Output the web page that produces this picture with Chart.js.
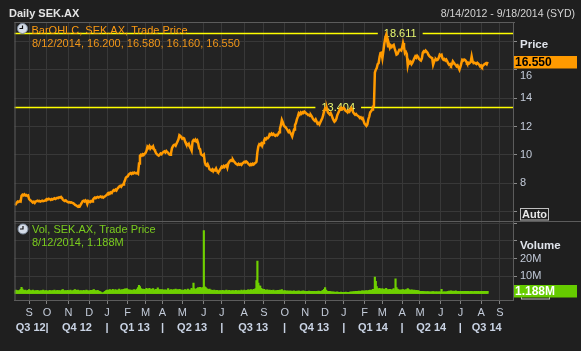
<!DOCTYPE html>
<html>
<head>
<meta charset="utf-8">
<title>Daily SEK.AX</title>
<script src="https://cdn.jsdelivr.net/npm/chart.js"></script>
<style>
  html, body { margin: 0; padding: 0; background: #1f1f1f; }
  #wrap { position: relative; width: 581px; height: 351px; overflow: hidden; }
  #title { position: absolute; left: 9px; top: 6px; font: bold 11px "Liberation Sans", sans-serif; color: #e4e4e4; line-height: 14px; }
  #range { position: absolute; right: 6px; top: 6px; font: 10.5px "Liberation Sans", sans-serif; color: #d4d4d4; line-height: 14px; }
  canvas { position: absolute; left: 0; top: 0; }
</style>
</head>
<body>
<div id="wrap">
  <canvas id="chart" width="581" height="351"></canvas>
  <div id="title">Daily SEK.AX</div>
  <div id="range">8/14/2012 - 9/18/2014 (SYD)</div>
</div>

<script>
// daily closes, one per trading day from 8/14/2012 to 8/12/2014
const closes = [
  6.45, 6.55, 6.65, 6.72, 6.70, 6.75, 6.72, 7.12, 7.20, 7.15,
  7.22, 7.15, 7.18, 7.12, 7.15, 6.90, 6.82, 6.78, 6.72, 6.65,
  6.70, 6.62, 6.72, 6.75, 6.78, 6.74, 6.76, 6.72, 6.75, 6.78,
  6.74, 6.76, 6.80, 6.85, 6.90, 6.86, 6.92, 6.88, 6.84, 6.90,
  6.86, 6.92, 6.95, 6.90, 6.94, 6.98, 6.96, 7.02, 7.00, 7.04,
  6.96, 6.85, 6.80, 6.76, 6.80, 6.74, 6.70, 6.66, 6.68, 6.64,
  6.66, 6.62, 6.60, 6.55, 6.48, 6.45, 6.40, 6.36, 6.42, 6.38,
  6.50, 6.62, 6.75, 6.78, 6.72, 6.80, 6.74, 6.55, 6.76, 6.72,
  6.68, 6.75, 6.72, 6.85, 6.95, 7.00, 6.96, 7.02, 7.05, 7.00,
  7.04, 7.08, 7.02, 7.06, 7.00, 7.05, 7.10, 7.15, 7.22, 7.30,
  7.34, 7.28, 7.36, 7.32, 7.45, 7.52, 7.48, 7.56, 7.50, 7.62,
  7.70, 7.78, 7.82, 7.76, 7.86, 7.92, 8.05, 8.20, 8.40, 8.46,
  8.50, 8.62, 8.68, 8.72, 8.66, 8.74, 8.70, 8.76, 8.72, 8.70,
  8.74, 8.68, 9.40, 9.95, 10.02, 9.96, 10.05, 10.00, 10.08, 10.15,
  10.30, 10.58, 10.50, 10.62, 10.45, 10.55, 10.50, 10.60, 10.40, 10.30,
  10.15, 10.05, 10.00, 9.95, 10.02, 10.10, 10.05, 10.15, 10.20, 10.25,
  10.18, 10.28, 10.20, 10.15, 10.05, 10.02, 10.10, 10.46, 10.60, 10.70,
  10.72, 10.65, 10.80, 10.95, 11.10, 11.40, 11.35, 11.25, 11.15, 11.20,
  11.17, 10.95, 10.80, 10.75, 10.70, 10.78, 10.58, 10.45, 10.30, 10.95,
  11.05, 11.00, 11.08, 10.95, 11.02, 10.80, 10.46, 10.40, 10.05, 10.00,
  9.95, 10.02, 9.50, 9.30, 9.25, 9.35, 9.20, 9.00, 8.95, 8.90,
  8.98, 8.85, 8.95, 8.92, 9.05, 8.88, 8.80, 8.82, 8.95, 9.05,
  9.17, 9.12, 9.22, 9.15, 9.25, 9.29, 9.10, 9.40, 9.50, 9.60,
  9.64, 9.58, 9.66, 9.55, 9.48, 9.40, 9.35, 9.30, 9.38, 9.32,
  9.36, 9.30, 9.40, 9.45, 9.52, 9.48, 9.55, 9.50, 9.40, 9.34,
  9.28, 9.36, 9.30, 9.38, 9.33, 9.40, 9.45, 9.52, 10.20, 10.60,
  10.75, 10.70, 10.80, 10.65, 10.85, 11.00, 11.15, 11.10, 11.20, 11.17,
  11.25, 11.45, 11.40, 11.50, 11.42, 11.48, 11.40, 11.35, 11.42, 11.38,
  11.45, 11.60, 11.87, 12.10, 12.46, 12.30, 12.10, 11.99, 11.95, 11.85,
  11.75, 11.63, 11.70, 11.55, 11.45, 11.30, 11.55, 11.80, 12.10, 12.25,
  12.50, 12.70, 12.93, 12.85, 12.98, 12.90, 13.00, 12.95, 13.05, 13.00,
  12.92, 12.88, 12.80, 12.82, 12.75, 12.80, 12.70, 12.55, 12.46, 12.40,
  12.50, 12.35, 12.20, 12.25, 12.15, 12.30, 12.45, 12.58, 12.80, 13.10,
  13.28, 13.20, 13.25, 13.00, 12.93, 12.85, 12.95, 12.80, 12.60, 12.45,
  12.34, 12.40, 12.55, 12.80, 12.95, 13.10, 13.28, 13.20, 13.30, 13.25,
  13.30, 13.22, 13.10, 13.07, 13.00, 13.12, 13.05, 13.20, 13.30, 13.15,
  13.00, 12.90, 12.83, 12.88, 12.80, 12.75, 12.70, 12.60, 12.65, 12.55,
  12.60, 12.40, 12.20, 12.13, 12.05, 12.15, 12.50, 12.70, 13.00, 13.07,
  13.20, 13.42, 13.45, 15.80, 16.00, 16.12, 16.40, 16.47, 16.90, 17.18,
  17.20, 16.82, 17.30, 17.80, 18.23, 18.45, 18.10, 17.65, 17.80, 17.55,
  17.70, 17.60, 17.70, 17.75, 17.50, 17.30, 17.06, 17.10, 17.25, 17.40,
  17.40, 17.35, 17.55, 17.88, 17.60, 17.18, 17.25, 17.10, 16.30, 16.60,
  16.47, 16.55, 16.40, 16.50, 16.65, 16.80, 16.94, 16.85, 16.98, 16.90,
  16.75, 16.70, 16.65, 16.80, 17.20, 17.30, 17.25, 17.35, 17.28, 17.20,
  17.05, 16.95, 16.90, 16.85, 16.82, 16.35, 16.55, 16.70, 16.75, 16.68,
  16.72, 16.85, 17.06, 17.00, 17.05, 16.80, 16.70, 16.75, 16.65, 16.72,
  16.60, 16.45, 16.35, 16.40, 16.30, 16.38, 16.59, 16.50, 16.40, 16.35,
  16.24, 16.30, 16.15, 16.00, 16.20, 16.45, 16.70, 16.65, 16.72, 16.68,
  16.60, 16.47, 16.50, 16.42, 16.48, 16.55, 16.94, 16.60, 16.47, 16.50,
  16.45, 16.40, 16.48, 16.42, 16.35, 16.24, 16.30, 16.20, 16.28, 16.35,
  16.40, 16.45, 16.38, 16.55
];

// daily volume in millions
const volumes = [
  1.6, 1.9, 1.5, 1.7, 1.4, 1.8, 2.4, 3.6, 2.6, 1.8,
  1.7, 2.0, 1.6, 1.4, 1.8, 2.2, 1.7, 1.5, 1.6, 1.9,
  1.6, 1.4, 1.7, 1.5, 1.8, 1.6, 1.3, 1.5, 1.7, 1.4,
  1.9, 1.6, 1.4, 1.7, 1.5, 1.3, 1.6, 1.8, 1.4, 1.5,
  1.7, 1.5, 2.0, 1.6, 1.4, 1.8, 1.5, 1.7, 1.6, 1.4,
  1.9, 2.2, 1.6, 1.5, 1.7, 1.4, 1.8, 1.6, 1.5, 1.9,
  1.6, 1.4, 1.7, 2.0, 2.3, 1.8, 1.6, 1.9, 1.5, 1.4,
  1.7, 1.6, 1.4, 1.8, 1.5, 1.6, 2.0, 1.7, 1.4, 1.6,
  1.5, 1.8, 1.6, 1.9, 2.2, 1.7, 1.5, 1.6, 1.8, 1.4,
  1.3, 0.9, 0.6, 0.3, 0.4, 0.8, 1.2, 1.7, 2.0, 1.6,
  1.9, 2.3, 1.8, 1.7, 2.4, 2.0, 1.6, 2.2, 1.8, 1.7,
  2.1, 2.5, 1.9, 1.8, 2.2, 2.0, 2.4, 2.7, 2.3, 2.8,
  2.2, 1.9, 2.1, 1.8, 2.0, 1.7, 1.9, 2.2, 1.8, 2.0,
  2.6, 3.4, 4.7, 4.0, 2.8, 2.3, 2.6, 2.2, 2.4, 2.1,
  2.9, 2.4, 2.2, 3.0, 2.1, 2.6, 2.3, 2.8, 2.0, 1.9,
  2.4, 2.1, 3.2, 2.3, 2.0, 2.2, 1.9, 2.3, 1.8, 2.0,
  2.1, 1.8, 2.0, 2.8, 1.9, 1.7, 2.2, 1.9, 2.0, 2.3,
  2.0, 2.6, 1.9, 2.2, 1.8, 2.4, 2.1, 1.9, 1.7, 2.0,
  1.8, 2.2, 1.9, 1.7, 2.6, 2.0, 1.8, 2.1, 3.0, 2.2,
  5.9, 2.8, 2.2, 2.4, 3.0, 3.4, 2.6, 3.6, 2.9, 3.2,
  3.4, 36.0, 3.8, 3.4, 2.8, 2.4, 2.2, 2.6, 2.0, 1.9,
  1.8, 1.6, 2.0, 1.7, 1.5, 1.8, 1.6, 1.4, 1.7, 1.6,
  1.5, 1.8, 1.6, 1.4, 1.7, 1.9, 1.5, 1.6, 1.8, 1.4,
  1.6, 1.5, 1.7, 1.4, 1.6, 1.8, 1.5, 1.4, 1.7, 1.6,
  1.4, 1.9, 1.6, 1.5, 2.0, 1.7, 1.6, 1.8, 2.1, 1.9,
  1.7, 2.2, 2.0, 1.8, 2.4, 2.1, 2.8, 7.4, 18.5, 5.9,
  4.4, 4.2, 3.0, 2.6, 2.2, 2.4, 2.0, 1.8, 2.1, 1.9,
  1.7, 2.0, 1.6, 1.8, 1.5, 1.9, 1.6, 1.4, 1.7, 1.5,
  1.8, 1.6, 2.0, 1.7, 2.2, 1.6, 1.4, 1.7, 1.5, 1.3,
  1.6, 1.4, 1.2, 1.5, 1.3, 1.4, 1.2, 1.6, 1.3, 1.1,
  1.4, 1.2, 1.5, 1.3, 1.1, 1.4, 1.2, 1.6, 1.3, 1.2,
  1.1, 1.3, 1.2, 1.4, 1.1, 1.2, 1.0, 1.3, 1.1, 1.2,
  1.0, 1.2, 1.1, 1.4, 1.2, 1.1, 1.3, 1.5, 1.8, 2.4,
  3.4, 2.0, 1.4, 1.2, 1.1, 1.3, 1.0, 0.9, 0.8, 0.9,
  0.7, 0.8, 0.7, 0.9, 0.7, 0.6, 0.7, 0.8, 0.6, 0.7,
  0.6, 0.7, 0.8, 0.6, 0.7, 0.6, 0.7, 0.9, 0.8, 1.0,
  0.9, 1.1, 1.0, 1.2, 1.1, 1.3, 1.4, 1.2, 1.3, 1.5,
  1.4, 1.6, 1.3, 1.5, 1.7, 1.4, 1.6, 1.8, 2.0, 1.7,
  1.9, 2.4, 2.2, 9.4, 7.0, 3.9, 2.8, 2.4, 3.0, 2.6,
  2.2, 2.8, 2.4, 2.1, 2.6, 3.0, 2.3, 2.0, 2.2, 2.4,
  2.1, 1.9, 2.3, 2.8, 2.0, 8.4, 3.4, 2.6, 2.2, 2.0,
  1.8, 2.1, 1.9, 2.3, 2.0, 1.8, 2.2, 1.9, 2.8, 2.3,
  2.0, 1.8, 2.1, 1.9, 1.7, 2.0, 1.6, 1.8, 1.5, 1.7,
  1.4, 1.2, 1.3, 1.1, 1.2, 1.0, 1.1, 0.9, 1.0, 1.1,
  0.9, 1.0, 0.8, 1.0, 0.9, 1.1, 0.9, 0.8, 1.0, 0.9,
  0.8, 0.9, 1.0, 0.8, 2.4, 0.7, 0.9, 1.0, 0.8, 0.9,
  1.0, 1.2, 1.4, 1.3, 1.6, 1.2, 1.4, 1.1, 1.3, 1.5,
  1.2, 1.1, 1.3, 1.0, 1.2, 1.1, 1.3, 1.0, 1.2, 1.1,
  1.3, 1.0, 1.2, 1.1, 1.0, 1.2, 1.3, 1.1, 1.0, 1.2,
  1.1, 1.3, 1.0, 1.2, 1.1, 1.0, 1.3, 1.1, 1.2, 1.0,
  1.3, 1.1, 1.2, 1.188
];

// x axis: trading-day index of each month start, and its letter
const monthTickIdx = [15, 34, 57, 79, 98, 120, 139, 157, 178, 201, 220, 244, 265, 287, 309, 330, 350, 372, 391, 412, 431, 453, 474, 496, 516];
const monthLabels = ['S', 'O', 'N', 'D', 'J', 'F', 'M', 'A', 'M', 'J', 'J', 'A', 'S', 'O', 'N', 'D', 'J', 'F', 'M', 'A', 'M', 'J', 'J', 'A', 'S'];
const quarterBounds = [34, 98, 157, 220, 287, 350, 412, 474];
const quarterLabels = ['Q3 12', 'Q4 12', 'Q1 13', 'Q2 13', 'Q3 13', 'Q4 13', 'Q1 14', 'Q2 14', 'Q3 14'];
const lastDayIdx = 530; // 9/18/2014

const priceTicks = [6, 8, 10, 12, 14, 16, 18];
const volTicks = [10, 20, 30, 40];

const highLow = [18.611, 13.404];
const lastBar = ['8/12/2014', 16.200, 16.580, 16.160, 16.550];
const lastVol = 1.188;

// quarter axis ticks: separators at boundaries, labels in the middle
const qTickVals = [];
const qTickText = [];
const qEdges = [-0.5].concat(quarterBounds, [lastDayIdx]);
for (let i = 0; i < quarterLabels.length; i++) {
  qTickVals.push((qEdges[i] + qEdges[i + 1]) / 2);
  qTickText.push(quarterLabels[i]);
  if (i < quarterBounds.length) {
    qTickVals.push(quarterBounds[i]);
    qTickText.push('|');
  }
}

const FONT = '"Liberation Sans", Arial, sans-serif';
const GRID = '#383838';
const FRAME = '#5c5c5c';
const LABEL = '#c3cbd9';

function clockIcon(ctx, x, y) {
  ctx.beginPath();
  ctx.arc(x, y, 5, 0, Math.PI * 2);
  ctx.fillStyle = '#d6dde8';
  ctx.fill();
  ctx.strokeStyle = '#7d8a9c';
  ctx.lineWidth = 1;
  ctx.stroke();
  ctx.beginPath();
  ctx.moveTo(x, y - 3);
  ctx.lineTo(x, y);
  ctx.lineTo(x - 3, y);
  ctx.strokeStyle = '#111';
  ctx.lineWidth = 1.2;
  ctx.stroke();
}

function autoButton(ctx, x, bottom) {
  ctx.fillStyle = '#1f1f1f';
  ctx.fillRect(x, bottom - 12, 28, 11);
  ctx.strokeStyle = '#bfbfbf';
  ctx.lineWidth = 1;
  ctx.strokeRect(x + 0.5, bottom - 12.5, 28, 11.5);
  ctx.fillStyle = '#e8e8e8';
  ctx.font = 'bold 11px ' + FONT;
  ctx.textAlign = 'center';
  ctx.textBaseline = 'middle';
  ctx.fillText('Auto', x + 14.5, bottom - 6.5);
}

const decor = {
  id: 'decor',
  beforeDraw(chart) {
    const { ctx, chartArea: a } = chart;
    ctx.save();
    ctx.fillStyle = '#1f1f1f';
    ctx.fillRect(0, 0, chart.width, chart.height);
    ctx.fillStyle = '#232323';
    ctx.fillRect(a.left, a.top, a.right - a.left, a.bottom - a.top);
    ctx.restore();
  },
  beforeDatasetsDraw(chart) {
    const { ctx, chartArea: a, scales } = chart;
    const labelAt = [410, 344];
    ctx.save();
    ctx.font = '11px ' + FONT;
    ctx.textAlign = 'center';
    ctx.textBaseline = 'middle';
    highLow.forEach((v, i) => {
      const py = Math.round(scales.y.getPixelForValue(v)) + 0.5;
      const px = scales.x.getPixelForValue(labelAt[i]);
      const txt = v.toFixed(3);
      const w = ctx.measureText(txt).width + 12;
      ctx.strokeStyle = '#ffff00';
      ctx.lineWidth = 1.4;
      ctx.beginPath();
      ctx.moveTo(a.left, py);
      ctx.lineTo(px - w / 2, py);
      ctx.moveTo(px + w / 2, py);
      ctx.lineTo(a.right, py);
      ctx.stroke();
      ctx.fillStyle = '#e8f870';
      ctx.fillText(txt, px, py);
    });
    ctx.restore();
  },
  afterDraw(chart) {
    const { ctx, chartArea: a, scales } = chart;
    const ys = scales.y, yv = scales.yv;
    ctx.save();

    // frame and panel separator
    ctx.strokeStyle = FRAME;
    ctx.lineWidth = 1;
    ctx.beginPath();
    ctx.moveTo(a.left + 0.5, a.top);
    ctx.lineTo(a.left + 0.5, a.bottom);
    ctx.moveTo(a.left, a.top + 0.5);
    ctx.lineTo(a.right + 2, a.top + 0.5);
    ctx.moveTo(a.left, Math.round(yv.top) + 0.5);
    ctx.lineTo(chart.width, Math.round(yv.top) + 0.5);
    ctx.stroke();

    // legends
    ctx.textAlign = 'left';
    ctx.textBaseline = 'middle';
    ctx.font = '11px ' + FONT;
    clockIcon(ctx, a.left + 8, a.top + 6.5);
    ctx.fillStyle = '#ff9c10';
    ctx.fillText('BarOHLC, SEK.AX, Trade Price', a.left + 17, a.top + 8.5);
    ctx.fillStyle = '#f0961a';
    ctx.fillText(lastBar[0] + ', ' + lastBar.slice(1).map(v => v.toFixed(3)).join(', '), a.left + 17.5, a.top + 22.3);

    clockIcon(ctx, a.left + 8.5, yv.top + 8);
    ctx.fillStyle = '#7acc1e';
    ctx.fillText('Vol, SEK.AX, Trade Price', a.left + 17.5, yv.top + 8.7);
    ctx.fillText(lastBar[0] + ', ' + lastVol.toFixed(3) + 'M', a.left + 17.5, yv.top + 21.7);

    // auto buttons
    autoButton(ctx, a.right + 7, ys.bottom);
    autoButton(ctx, a.right + 8, yv.bottom);

    // last value boxes
    const pyP = ys.getPixelForValue(lastBar[4]);
    ctx.fillStyle = '#ff9a00';
    ctx.fillRect(a.right + 1, Math.round(pyP - 6), 63, 12.5);
    ctx.fillStyle = '#000';
    ctx.font = 'bold 12px ' + FONT;
    ctx.textAlign = 'left';
    ctx.fillText(lastBar[4].toFixed(3), a.right + 2, pyP + 0.5);

    const pyV = yv.getPixelForValue(lastVol);
    ctx.fillStyle = '#66cc00';
    ctx.fillRect(a.right + 1, Math.round(pyV - 6), 63, 12.5);
    ctx.fillStyle = '#ffffff';
    ctx.fillText(lastVol.toFixed(3) + 'M', a.right + 2, pyV + 0.5);

    ctx.restore();
  }
};

const ctx = document.getElementById('chart').getContext('2d');
new Chart(ctx, {
  type: 'line',
  data: {
    datasets: [
      {
        type: 'line',
        label: 'BarOHLC',
        data: closes.map((v, i) => ({ x: i, y: v })),
        xAxisID: 'x',
        yAxisID: 'y',
        borderColor: '#ff9a00',
        borderWidth: 2.5,
        pointRadius: 0,
        tension: 0
      },
      {
        type: 'bar',
        label: 'Vol',
        data: volumes.map((v, i) => ({ x: i, y: v })),
        xAxisID: 'x',
        yAxisID: 'yv',
        backgroundColor: '#6fd000',
        barThickness: 1.5
      }
    ]
  },
  options: {
    responsive: false,
    animation: false,
    events: [],
    layout: { padding: { left: 14.5, top: 22, right: 0, bottom: 11 } },
    plugins: { legend: { display: false }, tooltip: { enabled: false } },
    scales: {
      x: {
        type: 'linear',
        position: 'bottom',
        min: -0.5,
        max: lastDayIdx,
        offset: false,
        grid: { color: GRID, offset: false, drawTicks: true, tickLength: 4, tickColor: '#808080' },
        border: { display: true, color: FRAME },
        afterBuildTicks: s => { s.ticks = monthTickIdx.map(v => ({ value: v })); },
        afterFit: s => { s.height = 20; },
        ticks: {
          autoSkip: false,
          maxRotation: 0,
          padding: 2,
          color: LABEL,
          font: { family: FONT, size: 11 },
          callback: (v, i) => monthLabels[i]
        }
      },
      xq: {
        type: 'linear',
        position: 'bottom',
        min: -0.5,
        max: lastDayIdx,
        offset: false,
        grid: { display: false, drawTicks: false },
        border: { display: false },
        afterBuildTicks: s => { s.ticks = qTickVals.map(v => ({ value: v })); },
        afterFit: s => { s.height = 20; },
        ticks: {
          autoSkip: false,
          maxRotation: 0,
          padding: 1,
          color: '#c9d3e4',
          font: { family: FONT, size: 11, weight: 'bold' },
          callback: (v, i) => qTickText[i]
        }
      },
      y: {
        type: 'linear',
        position: 'right',
        stack: 'panes',
        stackWeight: 199,
        min: 5.35,
        max: 19.36,
        grid: { color: GRID, tickLength: 4, tickColor: '#8a8a8a' },
        border: { display: true, color: FRAME },
        afterBuildTicks: s => { s.ticks = priceTicks.map(v => ({ value: v })); },
        afterFit: s => { s.width = 68; },
        ticks: {
          autoSkip: false,
          padding: 3,
          color: c => (c.tick && c.tick.value === 18 ? '#dfe3ea' : LABEL),
          font: c => (c.tick && c.tick.value === 18
            ? { family: FONT, size: 11.5, weight: 'bold', lineHeight: 0.55 }
            : { family: FONT, size: 11 }),
          callback: v => (v === 18 ? ['', 'Price'] : v === 16 ? ['', '16'] : v === 6 ? '' : String(v))
        }
      },
      yv: {
        type: 'linear',
        position: 'right',
        stack: 'panes',
        stackWeight: 79,
        min: -3.7,
        max: 41.4,
        grid: { color: GRID, tickLength: 4, tickColor: '#8a8a8a' },
        border: { display: true, color: FRAME },
        afterBuildTicks: s => { s.ticks = volTicks.map(v => ({ value: v })); },
        afterFit: s => { s.width = 68; },
        ticks: {
          autoSkip: false,
          padding: 3,
          color: c => (c.tick && c.tick.value === 30 ? '#dfe3ea' : LABEL),
          font: c => (c.tick && c.tick.value === 30
            ? { family: FONT, size: 11.5, weight: 'bold', lineHeight: 0.8 }
            : { family: FONT, size: 11 }),
          callback: v => (v === 30 ? ['', 'Volume'] : v === 40 ? '' : v + 'M')
        }
      }
    }
  },
  plugins: [decor]
});
</script>
</body>
</html>
